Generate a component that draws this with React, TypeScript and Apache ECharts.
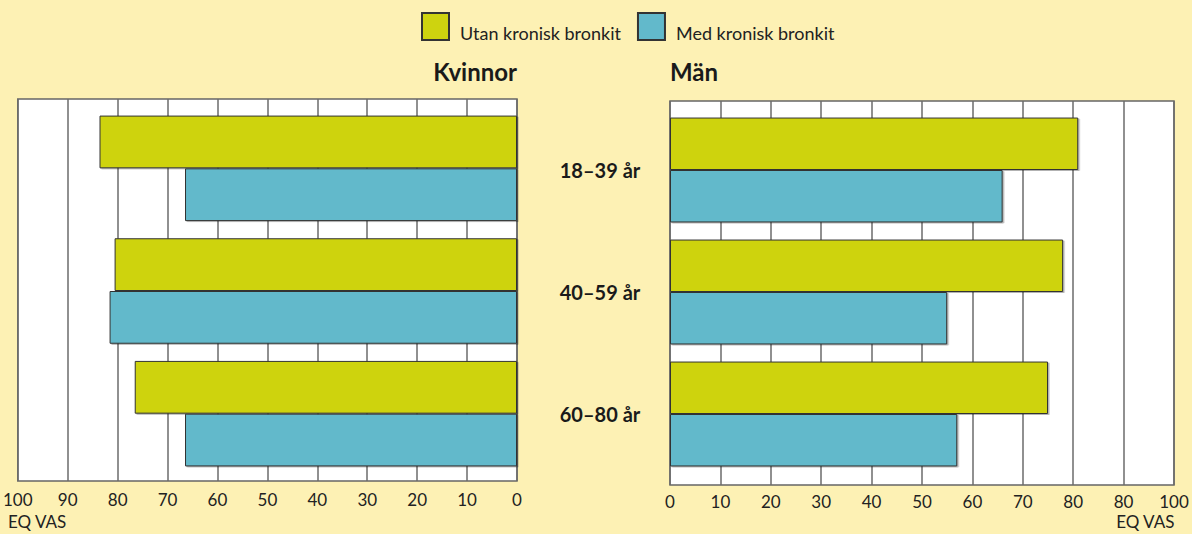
import React, { useEffect, useRef } from "react";
import * as echarts from "echarts";

const categories = ["18–39 år", "40–59 år", "60–80 år"];
const seriesNames = ["Utan kronisk bronkit", "Med kronisk bronkit"];
const womenUtan = [83, 80, 76];
const womenMed = [66, 81, 66];
const menUtan = [81, 78, 75];
const menMed = [66, 55, 57];
const leftTickLabels = ["0", "10", "20", "30", "40", "50", "60", "70", "80", "90", "100"];
const rightTickLabels = ["0", "10", "20", "30", "40", "50", "60", "70", "80", "80", "100"];
const panelTitles = ["Kvinnor", "Män"];
const axisName = "EQ VAS";

const YELLOW = "#CED30F";
const TEAL = "#62B9CB";
const BG = "#FDF1B4";
const FONT = "Lato, 'Open Sans', sans-serif";

export default function App() {
  const ref = useRef<HTMLDivElement>(null);
  useEffect(() => {
    document.body.style.margin = "0";
    const chart = echarts.init(ref.current!, null, { renderer: "svg" });
    const barStyle = (color: string) => ({
      color,
      borderColor: "#333",
      borderWidth: 1,
      shadowColor: "rgba(0,0,0,0.3)",
      shadowOffsetX: 1.5,
      shadowOffsetY: 1,
      shadowBlur: 0,
    });
    const bgGrid = { show: true, backgroundColor: "#fff", borderColor: "#666", borderWidth: 1.5 };
    const hiddenValueX = {
      type: "value",
      min: 0,
      max: 100,
      interval: 10,
      show: false,
      splitLine: { show: false },
    };
    const tickLabelStyle = { fontSize: 17, color: "#222", fontFamily: FONT, margin: 10 };
    const titleStyle = { fontSize: 24, fontWeight: "bold", color: "#1a1a1a", fontFamily: FONT };
    const barCommon = { type: "bar", barGap: "0%", barCategoryGap: "14%" };
    const option = {
      animation: false,
      backgroundColor: BG,
      textStyle: { fontFamily: FONT },
      legend: {
        top: 12,
        left: 421,
        padding: 0,
        itemWidth: 27,
        itemHeight: 27,
        itemGap: 16,
        icon: "rect",
        formatter: (name: string) => "{t|" + name + "}",
        textStyle: {
          fontSize: 18,
          color: "#222",
          fontFamily: FONT,
          rich: {
            t: { fontSize: 18, color: "#222", fontFamily: FONT, padding: [12, 0, 0, 6] },
          },
        },
        data: seriesNames,
      },
      title: [
        { text: panelTitles[0], right: 675, top: 59, padding: 0, textStyle: titleStyle },
        { text: panelTitles[1], left: 670, top: 59, padding: 0, textStyle: titleStyle },
      ],
      grid: [
        { left: 14, right: 675, top: 99, bottom: 53, ...bgGrid },
        { left: 670, right: 18, top: 101, bottom: 49, ...bgGrid },
        { left: 14, right: 675, top: 107, bottom: 59 },
        { left: 670, right: 18, top: 109, bottom: 59 },
      ],
      xAxis: [
        {
          type: "value",
          gridIndex: 0,
          min: 0,
          max: 100,
          interval: 10,
          inverse: true,
          axisTick: { show: false },
          axisLine: { show: false },
          splitLine: { show: true, lineStyle: { color: "#6b6b6b", width: 1.5 } },
          axisLabel: {
            ...tickLabelStyle,
            formatter: (v: number) => leftTickLabels[Math.round(v / 10)],
          },
        },
        {
          type: "value",
          gridIndex: 1,
          min: 0,
          max: 100,
          interval: 10,
          axisTick: { show: false },
          axisLine: { show: false },
          splitLine: { show: true, lineStyle: { color: "#6b6b6b", width: 1.5 } },
          axisLabel: {
            ...tickLabelStyle,
            margin: 8,
            formatter: (v: number) => rightTickLabels[Math.round(v / 10)],
          },
        },
        { ...hiddenValueX, gridIndex: 2, inverse: true },
        { ...hiddenValueX, gridIndex: 3 },
      ],
      yAxis: [
        { type: "value", gridIndex: 0, show: false, splitLine: { show: false } },
        { type: "value", gridIndex: 1, show: false, splitLine: { show: false } },
        {
          type: "category",
          gridIndex: 2,
          data: categories,
          inverse: true,
          axisLine: { show: false },
          axisTick: { show: false },
          axisLabel: { show: false },
        },
        {
          type: "category",
          gridIndex: 3,
          data: categories,
          inverse: true,
          axisLine: { show: false },
          axisTick: { show: false },
          axisLabel: {
            show: true,
            align: "center",
            margin: 70,
            fontSize: 20,
            fontWeight: "bold",
            color: "#1a1a1a",
            fontFamily: FONT,
          },
        },
      ],
      series: [
        { ...barCommon, name: seriesNames[0], xAxisIndex: 2, yAxisIndex: 2, data: womenUtan, itemStyle: barStyle(YELLOW) },
        { ...barCommon, name: seriesNames[1], xAxisIndex: 2, yAxisIndex: 2, data: womenMed, itemStyle: barStyle(TEAL) },
        { ...barCommon, name: seriesNames[0], xAxisIndex: 3, yAxisIndex: 3, data: menUtan, itemStyle: barStyle(YELLOW) },
        { ...barCommon, name: seriesNames[1], xAxisIndex: 3, yAxisIndex: 3, data: menMed, itemStyle: barStyle(TEAL) },
      ],
      graphic: [
        {
          type: "text",
          left: 8,
          top: 513,
          style: { text: axisName, fontSize: 17, fill: "#222", fontFamily: FONT },
        },
        {
          type: "text",
          right: 17,
          top: 513,
          style: { text: axisName, fontSize: 17, fill: "#222", fontFamily: FONT },
        },
      ],
    };
    chart.setOption(option as any);
    return () => chart.dispose();
  }, []);
  return <div ref={ref} style={{ width: 1192, height: 534 }} />;
}
